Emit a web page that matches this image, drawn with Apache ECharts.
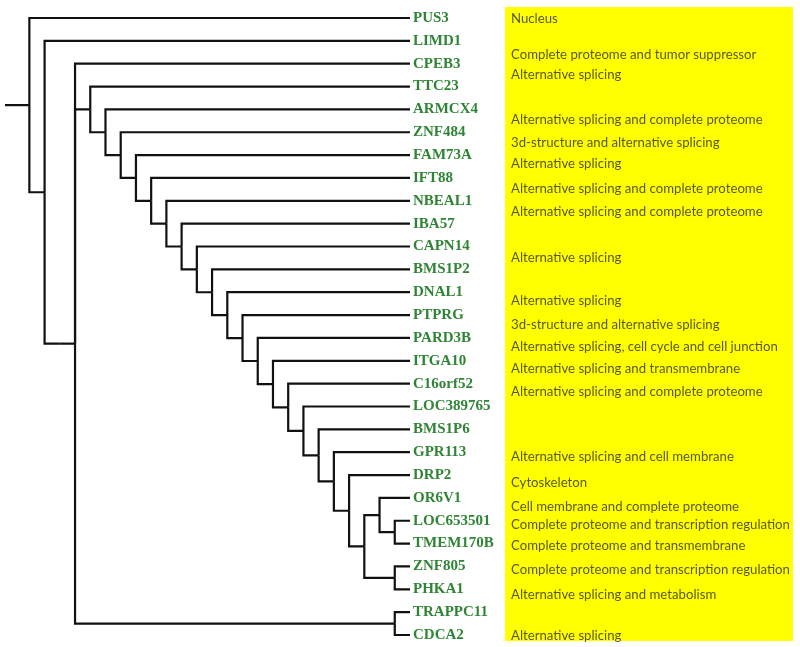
<!DOCTYPE html>
<html><head><meta charset="utf-8">
<script src="https://cdn.jsdelivr.net/npm/echarts@6/dist/echarts.min.js"></script>
<style>html,body{margin:0;padding:0;background:#fff}#c{width:800px;height:647px}</style>
</head><body><div id="c"></div>
<script>
// Tree topology (Newick), leaves top-to-bottom
const treeNewick = "(PUS3,(LIMD1,((CPEB3,(TTC23,(ARMCX4,(ZNF484,(FAM73A,(IFT88,(NBEAL1,(IBA57,(CAPN14,(BMS1P2,(DNAL1,(PTPRG,(PARD3B,(ITGA10,(C16orf52,(LOC389765,(BMS1P6,(GPR113,(DRP2,((OR6V1,(LOC653501,TMEM170B)),(ZNF805,PHKA1)))))))))))))))))))),(TRAPPC11,CDCA2))))";

// Annotation texts and the row (leaf-index units) each sits at
const annotationTexts = [
  "Nucleus",
  "Complete proteome and tumor suppressor",
  "Alternative splicing",
  "Alternative splicing and complete proteome",
  "3d-structure and alternative splicing",
  "Alternative splicing",
  "Alternative splicing and complete proteome",
  "Alternative splicing and complete proteome",
  "Alternative splicing",
  "Alternative splicing",
  "3d-structure and alternative splicing",
  "Alternative splicing, cell cycle and cell junction",
  "Alternative splicing and transmembrane",
  "Alternative splicing and complete proteome",
  "Alternative splicing and cell membrane",
  "Cytoskeleton",
  "Cell membrane and complete proteome",
  "Complete proteome and transcription regulation",
  "Complete proteome and transmembrane",
  "Complete proteome and transcription regulation",
  "Alternative splicing and metabolism",
  "Alternative splicing"
];
const annotationRows = [0.03, 1.61, 2.49, 4.46, 5.46, 6.39, 7.49, 8.49, 10.51, 12.39, 13.45, 14.4, 15.38, 16.38, 19.2, 20.38, 21.42, 22.19, 23.14, 24.16, 25.25, 27.05];

function parseNewick(s) {
  let i = 0;
  function node() {
    if (s[i] === '(') {
      i++;
      const ch = [node()];
      while (s[i] === ',') { i++; ch.push(node()); }
      i++;
      return { children: ch };
    }
    let n = '';
    while (i < s.length && !',()'.includes(s[i])) n += s[i++];
    return { name: n };
  }
  return node();
}

const root = parseNewick(treeNewick);
const leafOrder = [];
function layout(n) {
  if (!n.children) { n.y = leafOrder.length; n.h = 0; leafOrder.push(n.name); return; }
  n.children.forEach(layout);
  n.y = (n.children[0].y + n.children[n.children.length - 1].y) / 2;
  n.h = Math.max(...n.children.map(c => c.h)) + 1;
}
layout(root);

const ROOT_STUB = 1.6;
const segs = [];
function collect(n) {
  if (!n.children) return;
  n.children.forEach(c => {
    segs.push({ coords: [[n.h, n.y], [n.h, c.y], [c.h, c.y]] });
    collect(c);
  });
}
collect(root);
segs.push({ coords: [[root.h + ROOT_STUB, root.y], [root.h, root.y]] });

const nLeaves = leafOrder.length;
const chart = echarts.init(document.getElementById('c'), null, { renderer: 'canvas' });
chart.setOption({
  animation: false,
  backgroundColor: '#ffffff',
  grid: [
    { left: 5, right: 390, top: 18, bottom: 12 },
    { left: 505, right: 7, top: 7, bottom: 6, show: true, backgroundColor: '#ffff00', borderWidth: 0 }
  ],
  xAxis: [
    { gridIndex: 0, type: 'value', min: 0, max: root.h + ROOT_STUB, inverse: true, show: false },
    { gridIndex: 1, type: 'value', min: 0, max: 1, show: false }
  ],
  yAxis: [
    {
      gridIndex: 0, type: 'value', min: 0, max: nLeaves - 1, interval: 1, inverse: true, position: 'right',
      axisLine: { show: false }, axisTick: { show: false }, splitLine: { show: false },
      axisLabel: {
        show: true, margin: 3, align: 'left',
        formatter: v => leafOrder[v] || '',
        fontFamily: '"Liberation Serif", serif', fontWeight: 'bold', fontSize: 15, color: '#2f8535'
      }
    },
    { gridIndex: 1, type: 'value', min: -0.5, max: 27.3, inverse: true, show: false }
  ],
  series: [
    {
      type: 'lines', coordinateSystem: 'cartesian2d', xAxisIndex: 0, yAxisIndex: 0,
      polyline: true, silent: true,
      lineStyle: { color: '#111111', width: 2.2, opacity: 1 },
      data: segs
    },
    {
      type: 'scatter', xAxisIndex: 1, yAxisIndex: 1, symbolSize: 0, silent: true,
      data: annotationTexts.map((t, i) => [0, annotationRows[i], t]),
      label: {
        show: true, position: 'right', distance: 6,
        formatter: p => p.value[2],
        fontFamily: 'Lato, sans-serif', fontSize: 13.2, color: '#2e2e2e'
      }
    }
  ]
});
</script>
</body></html>
